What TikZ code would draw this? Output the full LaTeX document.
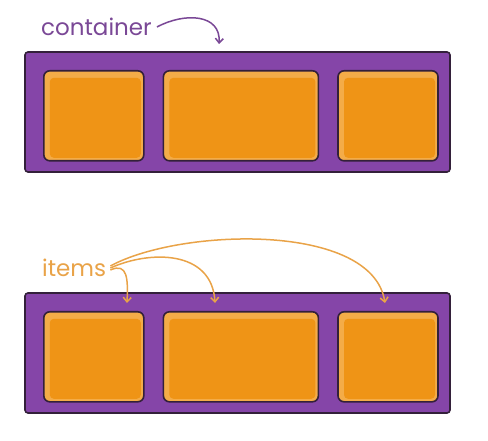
\documentclass[tikz,border=0pt]{standalone}
\usepackage{fontspec}
\setmainfont{Poppins}
\usetikzlibrary{positioning, arrows.meta}
\definecolor{flexpurple}{HTML}{8545A8}
\definecolor{flexdark}{HTML}{33203A}
\definecolor{flexorange}{HTML}{EF9416}
\definecolor{flexlight}{HTML}{F4AC48}
\definecolor{labelpurple}{HTML}{7A4896}
\definecolor{labelorange}{HTML}{E9A348}

\begin{document}
\begin{tikzpicture}[x=1pt, y=-1pt, node distance=18pt]
  \tikzset{
    box/.style={rectangle, rounded corners=3pt, draw=flexdark, line width=1.6pt,
      fill=flexpurple, minimum width=425pt, minimum height=120pt, inner sep=0pt},
    item/.style={rectangle, rounded corners=6pt, draw=flexdark, line width=1.6pt,
      fill=flexlight, minimum height=90pt, minimum width=#1, inner sep=0pt,
      path picture={\fill[flexorange, rounded corners=4pt]
        ([shift={(6pt,-7pt)}]path picture bounding box.north west) rectangle
        ([shift={(-3pt,3pt)}]path picture bounding box.south east);}},
    pointer/.style={-{Straight Barb[length=4.5pt, width=8pt]}, line width=1.5pt, draw=#1},
    tag/.style={font=\fontsize{23}{26}\selectfont, text=#1, inner sep=0pt, anchor=west},
  }
  \useasboundingbox (0,0) rectangle (488,441);

  % top row
  \node[box] (top) at (237.5,112) {};
  \node[item=100pt, anchor=north west] (t1) at (43,70) {};
  \node[item=155pt, right=18pt of t1] (t2) {};
  \node[item=100pt, right=18pt of t2] (t3) {};
  \node[tag=labelpurple] (ctext) at (41,27) {container};
  \coordinate (ctip) at (219,44);
  \draw[pointer=labelpurple] ([xshift=5pt]ctext.east) .. controls (185,12) and (221,14) .. (ctip);

  % bottom row
  \node[box] (bot) at (237.5,353) {};
  \node[item=100pt, anchor=north west] (b1) at (43,311) {};
  \node[item=155pt, right=18pt of b1] (b2) {};
  \node[item=100pt, right=18pt of b2] (b3) {};
  \node[tag=labelorange] (itext) at (42,268) {items};
  \coordinate (i1) at (127,303);
  \coordinate (i2) at (215,303);
  \coordinate (i3) at (385,303);
  \draw[pointer=labelorange] ([xshift=4pt,yshift=-2pt]itext.east) .. controls (128,262) and (128,280) .. (i1);
  \draw[pointer=labelorange] ([xshift=4pt]itext.east) .. controls (150,250) and (212,250) .. (i2);
  \draw[pointer=labelorange] ([xshift=4pt,yshift=2pt]itext.east) .. controls (180,228) and (372,222) .. (i3);
\end{tikzpicture}
\end{document}
